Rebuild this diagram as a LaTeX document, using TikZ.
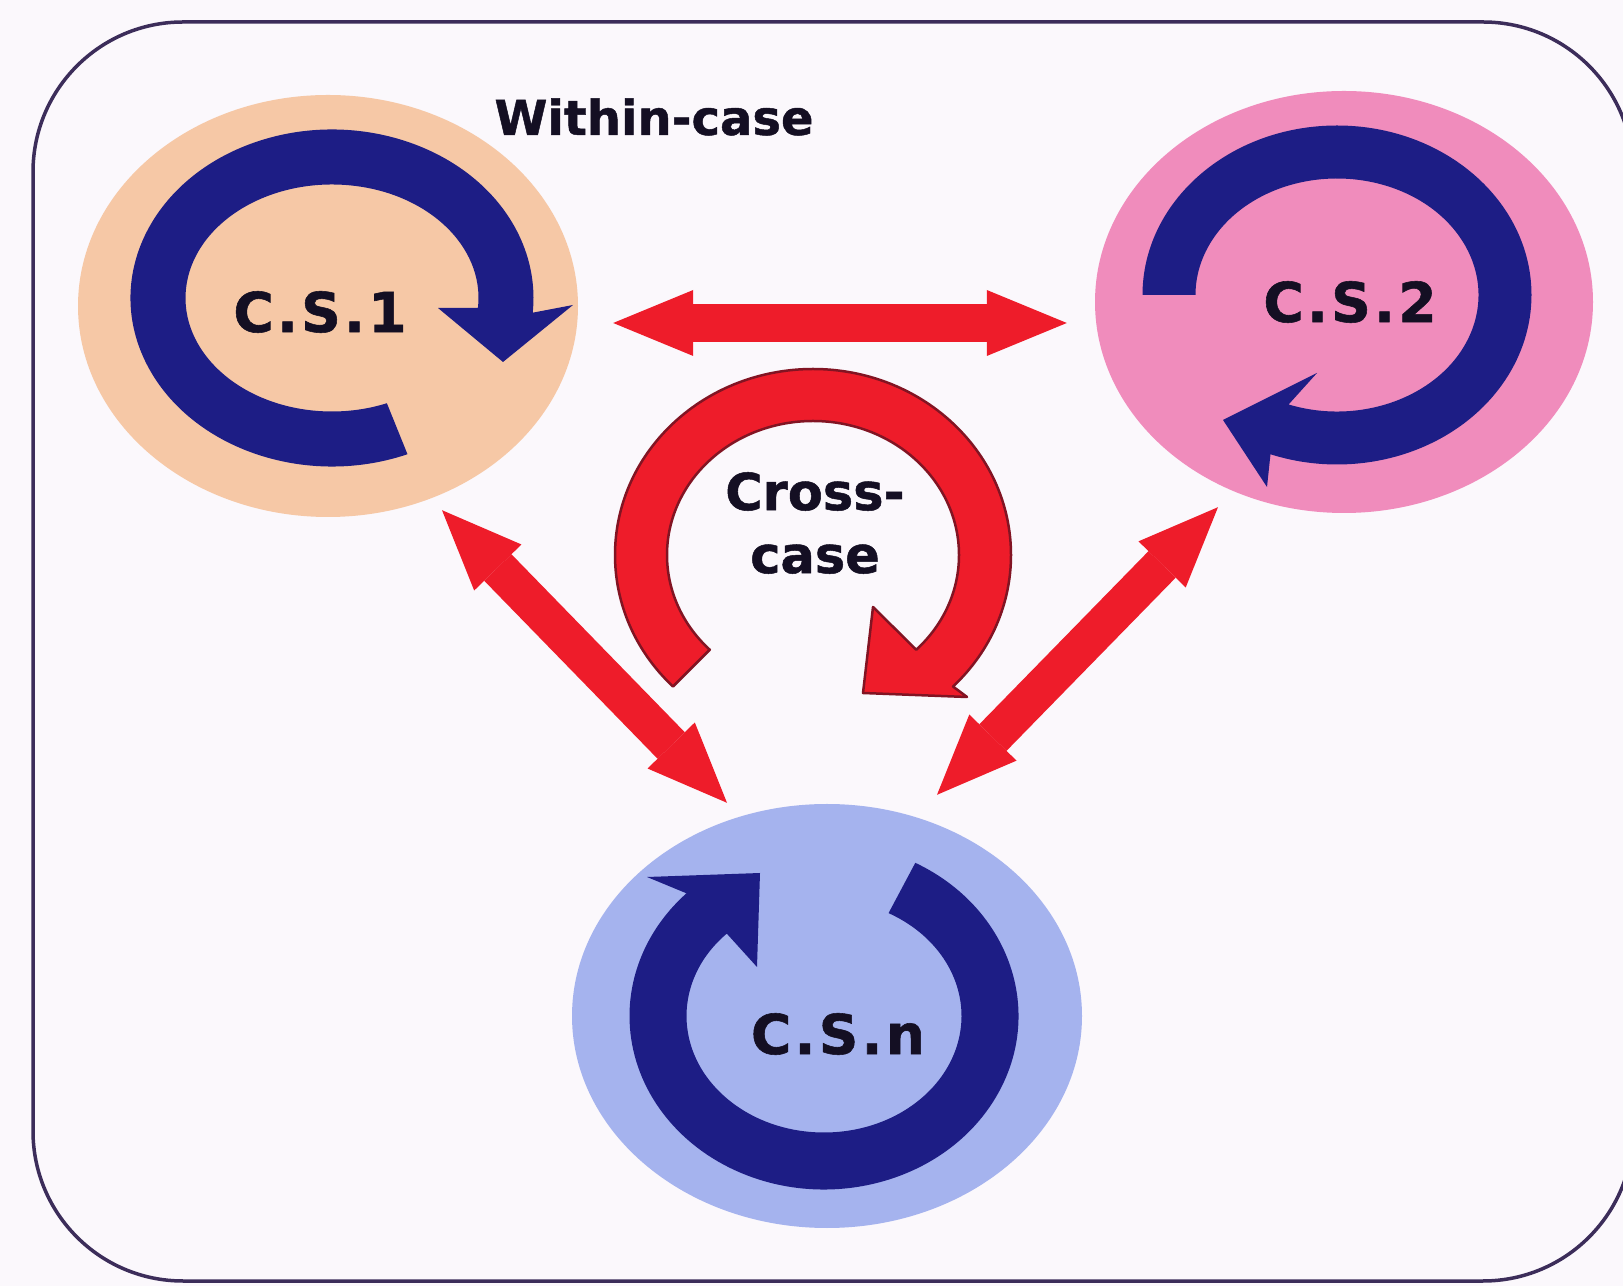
\documentclass[tikz,border=0pt]{standalone}
\usepackage{fontspec}
\newfontfamily\lblfont{DejaVu Sans}[BoldFeatures={FakeBold=1}]
\newfontfamily\csfont{DejaVu Sans}[LetterSpace=6, BoldFeatures={FakeBold=1}]
\usetikzlibrary{shapes.geometric,arrows.meta}
\definecolor{paper}{RGB}{251,248,252}
\definecolor{framec}{RGB}{60,45,90}
\definecolor{peach}{RGB}{246,200,166}
\definecolor{pinkc}{RGB}{240,140,188}
\definecolor{bluec}{RGB}{165,179,238}
\definecolor{navy}{RGB}{29,29,133}
\definecolor{redc}{RGB}{238,28,42}
\definecolor{redrim}{RGB}{130,20,35}
\definecolor{ink}{RGB}{20,15,35}
\begin{document}
\begin{tikzpicture}[x=1pt,y=1pt,
  disc/.style={ellipse, inner sep=0pt, draw=none},
  cyc/.style={fill=navy},
  lbl/.style={font=\csfont\bfseries\fontsize{55}{60}\selectfont, text=ink, inner sep=0pt},
  note/.style={font=\lblfont\bfseries\fontsize{#1}{63}\selectfont, text=ink, inner sep=0pt, align=center},
  dbl/.style={draw=redc, line width=38pt,
    {Triangle[length=80pt,width=66pt,line width=0pt]}-{Triangle[length=80pt,width=66pt,line width=0pt]}}]
\clip (0,0) rectangle (1623,1286);
\fill[paper] (0,0) rectangle (1623,1286);
% outer frame
\draw[framec, line width=3.5pt, rounded corners=150pt] (33,5) rectangle (1633,1264);

% case discs
\node[disc, fill=peach, minimum width=500pt, minimum height=422pt] (cs1) at (328,980) {};
\node[disc, fill=pinkc, minimum width=498pt, minimum height=422pt] (cs2) at (1344,984) {};
\node[disc, fill=bluec, minimum width=510pt, minimum height=424pt] (csn) at (827,270) {};

% within-case cycle arrows
\fill[cyc] ([shift={(-68:201.5 and 168.5)}]332,988)
  arc[start angle=-68, end angle=-365, x radius=201.5, y radius=168.5]
  -- (573,981) -- (503,924) -- (438,978)
  -- ([shift={(-365:146.5 and 113.5)}]332,988)
  arc[start angle=-365, end angle=-68, x radius=146.5, y radius=113.5] -- cycle;
\fill[cyc] ([shift={(180:194.5 and 169.5)}]1337,991)
  arc[start angle=180, end angle=-110, x radius=194.5, y radius=169.5]
  -- (1267,799) -- (1223,866) -- (1317,913)
  -- ([shift={(-110:141.5 and 116.5)}]1337,991)
  arc[start angle=-110, end angle=180, x radius=141.5, y radius=116.5] -- cycle;
\fill[cyc] ([shift={(62:194.5 and 173.5)}]824,270)
  arc[start angle=62, end angle=-225, x radius=194.5, y radius=173.5]
  -- (647,409) -- (760,413) -- (757,319)
  -- ([shift={(-225:137.5 and 116.5)}]824,270)
  arc[start angle=-225, end angle=62, x radius=137.5, y radius=116.5] -- cycle;

% labels
\node[lbl] (t1) at (320,974) {C.S.1};
\node[lbl] (t2) at (1350,984) {C.S.2};
\node[lbl] (tn) at (838,252) {C.S.n};
\node[note=48] (within) at (654,1169) {Within-case};

% cross-case cycle arrow
\filldraw[fill=redc, draw=redrim, line width=2.5pt, line join=round]
  ([shift={(-135:198 and 186)}]813,731)
  arc[start angle=-135, end angle=-405, x radius=198, y radius=186]
  -- (967,589) -- (863,593) -- (873,679)
  -- ([shift={(-405:146 and 134)}]813,731)
  arc[start angle=-405, end angle=-135, x radius=146, y radius=134] -- cycle;
\node[note=51] (cross) at (815,763) {Cross-\\case};

% links between cases
\draw[dbl] ([shift={(35,-17)}]cs1.east) -- ([shift={(-28,-21)}]cs2.west);
\draw[dbl] ([shift={(114,7)}]cs1.south) -- ([shift={(-100,1)}]csn.north);
\draw[dbl] ([shift={(-126,6)}]cs2.south) -- ([shift={(110,9)}]csn.north);
\end{tikzpicture}
\end{document}
